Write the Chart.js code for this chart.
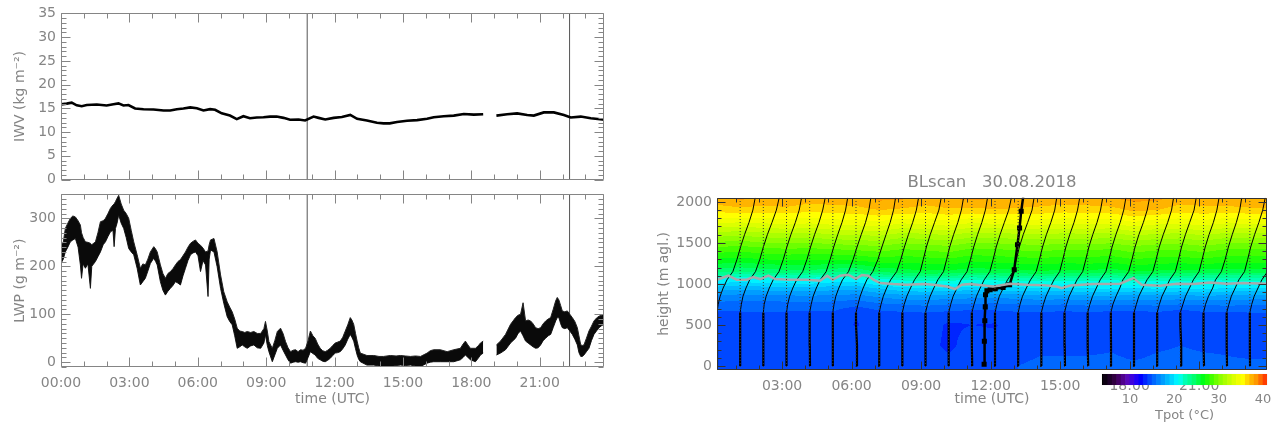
<!DOCTYPE html>
<html lang="en">
<head>
<meta charset="UTF-8">
<title>IWV / LWP / BLscan 30.08.2018</title>
<script src="https://cdn.jsdelivr.net/npm/chart.js@4.4.1/dist/chart.umd.min.js"></script>
<style>
  body { margin: 0; background: #fff; width: 1284px; height: 430px; position: relative; overflow: hidden; }
  .box { position: absolute; }
</style>
</head>
<body>
<div class="box" style="left:0;top:0;width:620px;height:193px"><canvas id="iwv"></canvas></div>
<div class="box" style="left:0;top:181px;width:620px;height:249px"><canvas id="lwp"></canvas></div>
<div class="box" style="left:640px;top:170px;width:644px;height:260px"><canvas id="blscan"></canvas></div>
<div class="box" style="left:1090px;top:372px;width:194px;height:58px"><canvas id="cbar"></canvas></div>
<script>
// ---- left panels: time in hours UTC
const timeTicks = [0, 3, 6, 9, 12, 15, 18, 21];
const iwvTicks = [0, 5, 10, 15, 20, 25, 30, 35];
const lwpTicks = [0, 100, 200, 300];
const markTimes = [10.8, 22.31];   // the two vertical lines

// IWV (kg m-2)
const iwvTime = [0.00,0.25,0.47,0.69,0.91,1.13,1.57,2.00,2.30,2.52,
  2.74,2.96,3.25,3.62,4.06,4.50,4.79,5.08,5.37,5.67,
  5.96,6.25,6.54,6.76,7.05,7.41,7.71,8.00,8.29,8.59,
  8.88,9.17,9.46,9.76,10.05,10.42,10.71,11.08,11.30,11.59,
  11.96,12.32,12.69,12.99,13.42,13.86,14.15,14.42,14.74,15.18,
  15.62,16.06,16.35,16.79,17.23,17.67,18.11,18.52,18.80,19.10,
  19.57,20.01,20.45,20.74,21.18,21.62,22.06,22.36,22.80,23.24,
  23.75,23.82];
const iwvVal = [15.85,16.0,16.2,15.65,15.45,15.7,15.8,15.6,15.85,16.05,
  15.6,15.7,14.97,14.83,14.77,14.56,14.56,14.83,14.97,15.2,
  15.04,14.56,14.83,14.7,13.95,13.48,12.73,13.34,12.93,13.07,
  13.14,13.27,13.27,13.0,12.6,12.66,12.46,13.27,13.0,12.66,
  13.0,13.2,13.61,12.8,12.46,11.98,11.85,11.85,12.12,12.39,
  12.52,12.8,13.14,13.34,13.48,13.82,13.68,13.75,null,13.48,
  13.75,13.95,13.61,13.48,14.15,14.15,13.61,13.07,13.27,12.93,
  12.66,12.6];

// LWP (g m-2): upper and lower edge of the noisy trace
const lwpTime = [0.00,0.10,0.19,0.30,0.41,0.52,0.63,0.75,0.85,0.90,
  0.97,1.07,1.18,1.29,1.35,1.51,1.62,1.73,1.85,1.95,
  2.06,2.17,2.28,2.33,2.39,2.46,2.53,2.64,2.75,2.86,
  2.97,3.08,3.19,3.34,3.48,3.59,3.70,3.81,3.92,4.07,
  4.15,4.22,4.36,4.47,4.58,4.69,4.80,4.91,5.02,5.13,
  5.24,5.35,5.46,5.57,5.68,5.79,5.90,6.01,6.12,6.23,
  6.34,6.45,6.50,6.56,6.71,6.85,7.00,7.14,7.29,7.40,
  7.51,7.62,7.73,7.84,7.95,8.06,8.17,8.32,8.46,8.61,
  8.76,8.90,8.97,9.05,9.12,9.27,9.38,9.49,9.63,9.74,
  9.85,9.96,10.07,10.18,10.29,10.40,10.51,10.62,10.73,10.84,
  10.94,11.05,11.15,11.26,11.37,11.48,11.59,11.70,11.81,11.92,
  12.03,12.14,12.25,12.36,12.47,12.58,12.69,12.76,12.84,12.92,
  12.99,13.06,13.13,13.42,13.72,13.95,14.15,14.45,14.70,14.89,
  15.10,15.33,15.55,15.77,16.06,16.20,16.35,16.64,16.94,17.23,
  17.52,17.64,17.74,17.85,17.96,18.18,18.30,18.40,18.52,18.80,
  19.10,19.28,19.50,19.72,19.94,20.05,20.16,20.27,20.38,20.49,
  20.60,20.71,20.82,20.93,21.04,21.15,21.26,21.37,21.48,21.59,
  21.70,21.77,21.84,21.92,21.99,22.10,22.21,22.32,22.43,22.54,
  22.65,22.72,22.80,22.87,22.94,23.05,23.16,23.27,23.38,23.49,
  23.60,23.71,23.82];
const lwpHi = [244,250,279,290,300,305,303,295,286,270,
  260,251,250,248,245,251,270,293,295,300,
  310,321,328,330,335,342,348,330,317,310,
  300,275,251,224,196,205,203,215,230,241,
  236,230,203,185,175,185,189,195,203,210,
  214,222,230,240,248,252,255,248,244,238,
  230,232,245,255,258,230,182,147,126,115,
  105,90,71,65,64,62,64,62,64,60,
  60,70,85,65,43,29,45,64,71,60,
  43,30,22,25,26,22,26,25,29,45,
  65,55,50,38,29,24,22,25,29,35,
  40,42,44,52,65,78,93,88,79,60,
  44,30,19,14,14,12,12,14,13,14,
  13,12,13,12,19,24,26,26,22,26,
  29,38,44,36,29,29,34,40,44,null,
  36,44,58,79,93,98,100,124,86,88,
  86,80,72,70,72,80,86,90,93,110,
  128,135,130,118,107,105,107,100,93,85,
  72,55,36,35,36,50,65,75,86,92,
  96,98,100];
const lwpLo = [206,215,230,240,251,255,258,240,203,175,
  205,196,205,154,200,210,220,230,245,251,
  262,272,275,241,279,290,307,290,279,260,
  237,230,224,196,161,168,175,190,206,217,
  210,203,168,150,140,148,154,160,168,165,
  161,180,196,212,224,228,230,222,189,212,
  203,137,215,234,230,199,154,123,95,85,
  78,55,29,32,36,32,29,34,36,30,
  29,40,57,35,22,1,15,29,36,25,
  15,5,-2,0,1,0,1,-1,-2,10,
  22,18,15,8,5,2,1,4,8,14,
  19,20,22,28,36,48,58,52,44,28,
  15,6,1,-6,-6,-8,-9,-9,-7,-6,
  -7,-6,-8,-9,-2,0,1,1,1,1,
  5,10,15,10,5,1,8,15,19,null,
  15,19,26,40,50,60,65,55,44,40,
  36,32,29,30,36,45,50,55,58,72,
  86,93,93,80,72,70,72,65,58,48,
  36,20,12,12,15,22,29,45,58,65,
  72,76,79];

// ---- BLscan: potential temperature (°C), one column per hourly profile
const blTimeTicks = [3, 6, 9, 12, 15, 18, 21];
const htTicks = [0, 500, 1000, 1500, 2000];
const cbTicks = [10, 20, 30, 40];
const profTimes = [0.19,1.19,2.19,3.19,4.19,5.19,6.19,7.19,8.19,9.19,10.19,11.19,
  12.19,13.19,14.19,15.19,16.19,17.19,18.19,19.19,20.19,21.19,22.19,23.19];
const profHeights = [0, 250, 500, 650, 750, 850, 950, 1050, 1150, 1300, 1450, 1600, 1750, 1900, 2050];
const tpotRows = [
  [14.9,14.9,14.9,14.9,15.0,14.9,14.9,14.9,14.8,14.6,14.5,14.8,14.9,15.0,15.1,15.1,15.2,15.2,15.1,15.2,15.2,15.2,15.1,15.1],
  [14.8,14.8,14.8,14.9,14.9,14.8,14.7,14.8,14.8,14.5,13.7,14.6,14.4,14.8,14.9,14.9,14.8,14.9,14.7,14.9,15.0,14.9,14.9,14.8],
  [14.8,14.7,14.8,14.8,14.5,14.7,13.9,14.6,14.8,14.7,13.8,14.0,13.9,14.7,14.6,14.5,14.7,14.2,14.1,14.2,14.0,14.6,14.7,14.8],
  [14.9,14.9,15.0,14.9,14.8,14.9,14.1,14.7,14.9,15.0,14.8,14.6,14.7,14.9,14.9,14.8,14.9,14.8,14.7,14.9,14.5,14.9,14.9,15.0],
  [15.6,15.6,15.5,15.6,15.7,15.6,15.3,15.8,16.0,16.2,16.0,15.9,15.8,16.0,16.1,16.0,16.2,16.0,16.1,16.2,16.0,16.1,16.2,16.1],
  [16.8,16.6,16.7,16.8,16.9,16.7,16.6,17.2,17.6,17.8,17.5,17.4,17.3,17.5,17.7,17.6,17.8,17.9,17.6,17.8,17.6,17.9,17.7,17.6],
  [18.6,18.4,18.6,18.7,18.8,18.5,18.4,19.2,19.8,20.0,19.8,19.6,19.7,19.8,20.0,19.9,20.1,20.2,20.0,20.2,20.0,20.4,20.0,19.9],
  [20.9,20.6,20.9,21.0,21.1,20.7,20.6,21.6,22.2,22.4,22.3,22.0,22.2,22.3,22.5,22.3,22.4,22.0,22.5,22.4,22.3,22.1,22.2,22.2],
  [24.4,24.1,24.4,24.6,24.7,24.3,24.2,25.2,25.6,25.8,25.8,25.4,25.6,25.7,25.9,25.7,25.8,25.5,26.0,25.8,25.7,25.6,25.6,25.6],
  [26.9,26.7,27.0,27.2,27.1,27.1,27.3,27.7,27.5,27.7,27.9,27.4,27.5,27.7,27.8,27.6,27.7,27.5,28.0,27.7,27.6,27.9,27.5,27.5],
  [29.0,28.8,29.1,29.3,29.2,29.4,29.6,29.8,29.3,29.5,29.8,29.2,29.3,29.5,29.6,29.4,29.5,29.3,29.8,29.5,29.4,29.8,29.3,29.3],
  [31.4,31.2,31.5,31.7,31.6,31.9,32.1,32.2,31.6,31.8,32.1,31.5,31.6,31.8,31.9,31.7,31.8,31.6,32.2,31.8,31.7,32.1,31.6,31.6],
  [34.1,34.0,34.2,34.4,34.2,34.5,34.6,34.8,34.2,34.4,34.7,34.1,34.3,34.5,34.5,34.3,34.4,34.3,34.9,34.4,34.3,34.6,34.2,34.3],
  [36.4,36.6,36.5,36.6,36.3,36.5,36.6,37.0,36.8,36.5,36.8,36.7,36.9,36.8,36.6,36.4,36.5,36.6,37.2,37.0,36.4,36.6,36.5,36.7],
  [37.8,38.3,37.9,38.1,37.6,37.7,37.8,38.3,38.2,37.8,38.1,38.3,38.1,38.0,37.9,37.7,37.8,38.0,38.4,38.3,37.7,37.8,38.0,38.2]
];
// boundary layer top (grey line), m
const blhTime = [0.19,0.68,1.04,1.47,1.76,2.05,2.41,2.70,3.34,4.06,4.64,4.95,5.19,5.50,5.86,6.19,6.44,6.72,6.94,7.23,
  7.80,8.38,9.10,9.53,10.11,10.47,10.75,11.11,12.12,12.84,13.56,14.28,14.86,15.07,15.43,16.44,17.59,18.16,18.52,19.31,
  20.03,20.75,21.47,22.19,22.91,23.93];
const blhVal = [1051,1100,1051,1051,1083,1059,1100,1059,1051,1051,1038,1100,1051,1100,1112,1059,1108,1100,1051,1010,
  998,990,998,990,969,937,990,998,969,1002,990,985,969,949,981,998,1002,1071,990,978,
  1002,998,1018,1002,1010,1002];
// radiosonde (bold line), plotted on the time axis
const sondeTime = [11.72,11.73,11.75,11.77,11.78,11.84,11.98,12.20,12.54,12.82,13.02,13.16,13.25,13.32,13.42];
const sondeHt = [20,300,550,720,867,915,928,940,957,990,1173,1478,1682,1885,2089];

// colour table (Rainbow + black)
const cmapVal = [3.7,5,6.5,8,9.5,11,12.5,14,15.5,17,18.5,20,21,22.5,24.5,26.5,28,30,32,34,35.5,36.5,37.5,38.5,39.5,40.9];
const cmapCol = ['#000000','#14001e','#300040','#4c0078','#5808b8','#3000f0','#0000ff','#0038ff','#0068ff','#0090ff',
  '#00b8ff','#00e4ff','#00ffff','#00ffb4','#00ff70','#00ff18','#30ff00','#80ff00','#b8ff00','#e8ff00',
  '#ffff00','#ffd800','#ffb400','#ff9800','#ff6c00','#ff2c00'];

const FONT = 'DejaVu Sans';
const GREY = '#858585';
const hoursPerK = 0.072;   // horizontal scale of the profile curves

function hexRgb(h) { return [parseInt(h.slice(1,3),16), parseInt(h.slice(3,5),16), parseInt(h.slice(5,7),16)]; }
const cmapRgb = cmapCol.map(hexRgb);
function cmap(v) {
  if (v <= cmapVal[0]) return cmapRgb[0];
  for (let i = 1; i < cmapVal.length; i++) {
    if (v <= cmapVal[i]) {
      const f = (v - cmapVal[i-1]) / (cmapVal[i] - cmapVal[i-1]);
      const a = cmapRgb[i-1], b = cmapRgb[i];
      return [0,1,2].map(k => Math.round(a[k] + (b[k]-a[k])*f));
    }
  }
  return cmapRgb[cmapRgb.length-1];
}
const bandRgb = v => cmap(Math.floor(v) + 0.5);
const rgbStr = c => 'rgb(' + c.join(',') + ')';

function locate(arr, v) {
  let i = 0;
  while (i < arr.length - 2 && v > arr[i+1]) i++;
  let f = (v - arr[i]) / (arr[i+1] - arr[i]);
  return [i, Math.max(0, Math.min(1, f))];
}
function tpotAt(t, h) {
  const [i, fx] = locate(profTimes, t);
  const [j, fy] = locate(profHeights, h);
  const a = tpotRows[j][i], b = tpotRows[j][i+1], c = tpotRows[j+1][i], d = tpotRows[j+1][i+1];
  return (a*(1-fx) + b*fx)*(1-fy) + (c*(1-fx) + d*fx)*fy;
}

const fixTicks = vals => s => { s.ticks = vals.map(v => ({value: v})); };
const hhmm = v => (v < 10 ? '0' : '') + v + ':00';
const plain = v => String(v);

// IDL style frame: box with inward ticks on all four sides
const idlFrame = {
  id: 'idlFrame',
  afterDatasetsDraw(chart, args, o) {
    const {ctx, chartArea: a, scales: {x, y}} = chart;
    const L = Math.round(a.left) + 0.5, R = Math.round(a.right) - 0.5;
    const T = Math.round(a.top) + 0.5, B = Math.round(a.bottom) - 0.5;
    ctx.save();
    ctx.strokeStyle = o.color;
    ctx.lineWidth = 1;
    ctx.beginPath();
    ctx.rect(L, T, R - L, B - T);
    const isMaj = (v, st) => Math.abs(v / st - Math.round(v / st)) < 1e-6;
    const each = (sc, step, fn) => {
      for (let n = Math.ceil(sc.min / step - 1e-6); n * step <= sc.max + 1e-6; n++) {
        fn(Math.round(sc.getPixelForValue(n * step)) + 0.5, n * step);
      }
    };
    each(x, o.x[0], (p, v) => {
      const len = isMaj(v, o.x[1]) ? o.major : o.minor;
      ctx.moveTo(p, B); ctx.lineTo(p, B - len);
      ctx.moveTo(p, T); ctx.lineTo(p, T + len);
    });
    each(y, o.y[0], (p, v) => {
      const len = isMaj(v, o.y[1]) ? o.major : o.minor;
      ctx.moveTo(L, p); ctx.lineTo(L + len, p);
      ctx.moveTo(R, p); ctx.lineTo(R - len, p);
    });
    ctx.stroke();
    ctx.restore();
  }
};

// filled contours of Tpot behind the profiles
const contourFill = {
  id: 'contourFill',
  beforeDatasetsDraw(chart) {
    const {ctx, chartArea: a, scales: {x, y}} = chart;
    const dpr = chart.currentDevicePixelRatio || 1;
    const x0 = Math.round(a.left * dpr), y0 = Math.round(a.top * dpr);
    const w = Math.round(a.right * dpr) - x0, h = Math.round(a.bottom * dpr) - y0;
    const img = ctx.createImageData(w, h);
    const tv = [];
    for (let i = 0; i < w; i++) tv.push(x.getValueForPixel((x0 + i + 0.5) / dpr));
    for (let j = 0; j < h; j++) {
      const hv = y.getValueForPixel((y0 + j + 0.5) / dpr);
      for (let i = 0; i < w; i++) {
        const c = bandRgb(tpotAt(tv[i], hv));
        const k = (j * w + i) * 4;
        img.data[k] = c[0]; img.data[k+1] = c[1]; img.data[k+2] = c[2]; img.data[k+3] = 255;
      }
    }
    ctx.putImageData(img, x0, y0);
  }
};

const tickFont = {family: FONT, size: 14};
const noGrid = {display: false, drawTicks: false};
const base = {
  responsive: true, maintainAspectRatio: false, animation: false, events: [],
};

// ---- IWV
new Chart(document.getElementById('iwv'), {
  type: 'line',
  data: {
    datasets: [
      { data: iwvTime.map((t, i) => ({x: t, y: iwvVal[i]})), borderColor: '#000', borderWidth: 2.6, pointRadius: 0, spanGaps: false },
      ...markTimes.map(t => ({ data: [{x: t, y: -5}, {x: t, y: 40}], borderColor: '#555', borderWidth: 1, pointRadius: 0 }))
    ]
  },
  options: {
    ...base,
    layout: {padding: {top: 8, right: 16, left: 0, bottom: 0}},
    plugins: { legend: {display: false}, tooltip: {enabled: false},
      idlFrame: {color: GREY, x: [1, 3], y: [1, 5], major: 9, minor: 5} },
    scales: {
      x: { type: 'linear', min: 0, max: 23.82, grid: noGrid, border: {display: false},
           ticks: {display: false}, afterFit: s => { s.height = 6; } },
      y: { type: 'linear', min: 0, max: 35, grid: noGrid, border: {display: false},
           afterBuildTicks: fixTicks(iwvTicks),
           ticks: {font: tickFont, color: GREY, padding: 5, callback: plain},
           title: {display: true, text: 'IWV (kg m⁻²)', color: GREY, font: tickFont, padding: {top: 12, bottom: 0}},
           afterFit: s => { s.width = 61; } }
    }
  },
  plugins: [idlFrame]
});

// ---- LWP
new Chart(document.getElementById('lwp'), {
  type: 'line',
  data: {
    datasets: [
      { data: lwpTime.map((t, i) => ({x: t, y: lwpHi[i]})), borderColor: '#222', borderWidth: 1, pointRadius: 0,
        fill: '+1', backgroundColor: '#0a0a0a', spanGaps: false },
      { data: lwpTime.map((t, i) => ({x: t, y: lwpLo[i]})), borderColor: '#222', borderWidth: 1, pointRadius: 0,
        fill: false, spanGaps: false },
      ...markTimes.map(t => ({ data: [{x: t, y: -20}, {x: t, y: 400}], borderColor: '#555', borderWidth: 1, pointRadius: 0 }))
    ]
  },
  options: {
    ...base,
    layout: {padding: {top: 8, right: 16, left: 0, bottom: 0}},
    plugins: { legend: {display: false}, tooltip: {enabled: false},
      idlFrame: {color: GREY, x: [1, 3], y: [10, 100], major: 9, minor: 5} },
    scales: {
      x: { type: 'linear', min: 0, max: 23.82, grid: noGrid, border: {display: false},
           afterBuildTicks: fixTicks(timeTicks),
           ticks: {font: tickFont, color: GREY, padding: 8, maxRotation: 0, autoSkip: false, callback: hhmm},
           title: {display: true, text: 'time (UTC)', color: GREY, font: tickFont, padding: {top: 0, bottom: 22}},
           afterFit: s => { s.height = 63; } },
      y: { type: 'linear', min: -10, max: 350, grid: noGrid, border: {display: false},
           afterBuildTicks: fixTicks(lwpTicks),
           ticks: {font: tickFont, color: GREY, padding: 5, callback: plain},
           title: {display: true, text: 'LWP (g m⁻²)', color: GREY, font: tickFont, padding: {top: 12, bottom: 0}},
           afterFit: s => { s.width = 61; } }
    }
  },
  plugins: [idlFrame]
});

// ---- BLscan
const profileSets = profTimes.map((t, n) => ({
  data: profHeights.map((h, j) => ({x: t + Math.max(0, tpotRows[j][n] - tpotRows[3][n]) * hoursPerK, y: h})),
  borderColor: '#000', borderWidth: 1, pointRadius: 0,
  segment: { borderWidth: c => (c.p1.parsed.y <= 650 ? 2.2 : 1) }
}));
const refLines = profTimes.map(t => ({
  data: [{x: t, y: -50}, {x: t, y: 2050}], borderColor: '#3a3a3a', borderWidth: 1, borderDash: [1, 2], pointRadius: 0
}));

new Chart(document.getElementById('blscan'), {
  type: 'line',
  data: {
    datasets: [
      ...refLines,
      { data: blhTime.map((t, i) => ({x: t, y: blhVal[i]})), borderColor: '#a9a9a9', borderWidth: 2.5, pointRadius: 0 },
      ...profileSets,
      { data: sondeTime.map((t, i) => ({x: t, y: sondeHt[i]})), borderColor: '#000', borderWidth: 2.5,
        pointStyle: 'rect', pointRadius: 1.8, pointBackgroundColor: '#000', pointBorderColor: '#000' }
    ]
  },
  options: {
    ...base,
    layout: {padding: {top: 0, right: 17, left: 0, bottom: 0}},
    plugins: { legend: {display: false}, tooltip: {enabled: false},
      title: {display: true, fullSize: false, text: 'BLscan   30.08.2018', color: GREY,
              font: {family: FONT, size: 16.5, weight: 'normal'}, padding: {top: 3, bottom: 5}},
      idlFrame: {color: '#333', x: [1, 3], y: [100, 500], major: 8, minor: 4} },
    scales: {
      x: { type: 'linear', min: 0.19, max: 23.93, grid: noGrid, border: {display: false},
           afterBuildTicks: fixTicks(blTimeTicks),
           ticks: {font: tickFont, color: GREY, padding: 8, maxRotation: 0, autoSkip: false, callback: hhmm},
           title: {display: true, text: 'time (UTC)', color: GREY, font: tickFont, padding: {top: 0, bottom: 22}},
           afterFit: s => { s.height = 60; } },
      y: { type: 'linear', min: -50, max: 2050, grid: noGrid, border: {display: false},
           afterBuildTicks: fixTicks(htTicks),
           ticks: {font: tickFont, color: GREY, padding: 5, callback: plain},
           title: {display: true, text: 'height (m agl.)', color: GREY, font: tickFont, padding: {top: 16, bottom: 0}},
           afterFit: s => { s.width = 77; } }
    }
  },
  plugins: [contourFill, idlFrame]
});

// ---- colour bar
const bands = [];
for (let v = 3; v < 41; v++) bands.push({x: [v, v + 1], y: 'Tpot'});
new Chart(document.getElementById('cbar'), {
  type: 'bar',
  data: {
    labels: ['Tpot'],
    datasets: [
      { data: bands, backgroundColor: bands.map(b => rgbStr(bandRgb(b.x[0] + 0.5))), borderWidth: 0,
        barPercentage: 1, categoryPercentage: 1 },
      { data: [{x: [3.7, 40.9], y: 'Tpot'}], backgroundColor: 'rgba(0,0,0,0)', borderColor: '#b4b4b4', borderWidth: 1,
        borderSkipped: false, barPercentage: 1, categoryPercentage: 1, clip: 2 }
    ]
  },
  options: {
    ...base,
    indexAxis: 'y',
    datasets: {bar: {grouped: false}},
    layout: {padding: {top: 2, right: 17, left: 12, bottom: 0}},
    plugins: { legend: {display: false}, tooltip: {enabled: false} },
    scales: {
      x: { type: 'linear', min: 3.7, max: 40.9, grid: noGrid, border: {display: false},
           afterBuildTicks: fixTicks(cbTicks),
           ticks: {font: {family: FONT, size: 13}, color: GREY, padding: 7, maxRotation: 0, autoSkip: false, callback: plain},
           title: {display: true, text: 'Tpot (°C)', color: GREY, font: {family: FONT, size: 13}, padding: {top: 0, bottom: 7}},
           afterFit: s => { s.height = 45; } },
      y: { type: 'category', display: false }
    }
  }
});
</script>
</body>
</html>
